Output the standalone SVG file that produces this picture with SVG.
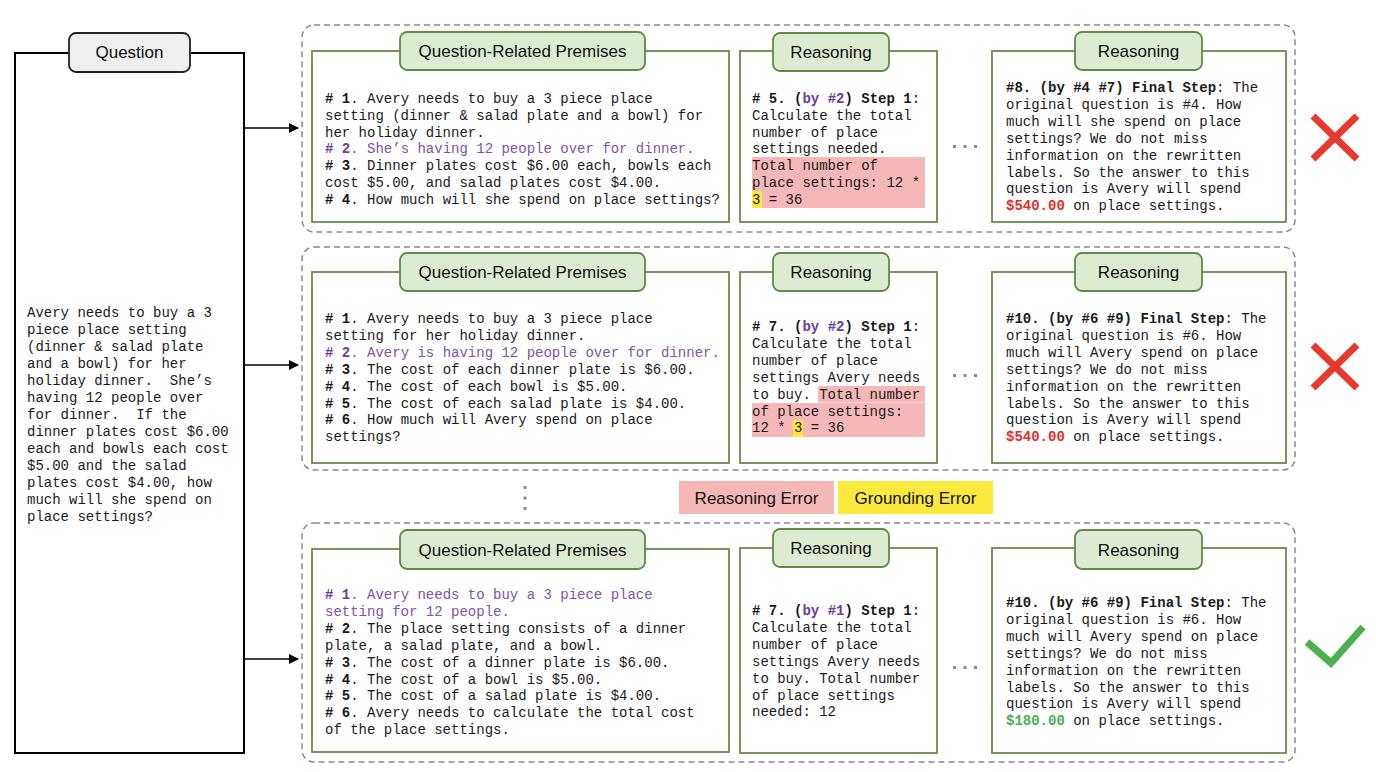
<svg xmlns="http://www.w3.org/2000/svg" width="1376" height="772" viewBox="0 0 1376 772">
<style>
.m{font-family:"Liberation Mono","Courier New",monospace;font-size:14px;fill:#1a1a1a}
.pre{white-space:pre}
.b{font-weight:bold}
.p{fill:#7b55a6}
.pb{fill:#6a3d9e;font-weight:bold}
.red{fill:#e0302a;font-weight:bold}
.grn{fill:#4caf50;font-weight:bold}
.t{font-family:"Liberation Sans",Arial,sans-serif;font-size:17px;fill:#111;text-anchor:middle}
.grp{fill:none;stroke:#8a8a8a;stroke-width:1.5;stroke-dasharray:6 4}
.box{fill:#fff;stroke:#688c4b;stroke-width:1.8}
.pill{fill:#dcebd2;stroke:#5f8a44;stroke-width:1.8}
.pink{fill:#f5b7b7}
.yel{fill:#fbe93d}
.dot{fill:#8a8a8a}
.conn{stroke:#000;stroke-width:1.6;fill:none}
</style>
<defs>
<marker id="arr" markerWidth="10" markerHeight="10" refX="9" refY="5" orient="auto" markerUnits="userSpaceOnUse">
<path d="M0,0 L10,5 L0,10 z" fill="#000"/>
</marker>
</defs>
<rect width="1376" height="772" fill="#fff"/>

<!-- Question node -->
<g id="question">
<rect x="15" y="53" width="229" height="700" fill="#fff" stroke="#000" stroke-width="2"/>
<rect x="69" y="33" width="121" height="39" rx="7" fill="#efefef" stroke="#222" stroke-width="1.8"/>
<text class="t" x="129.5" y="58">Question</text>
<text class="m" x="27" y="317">Avery needs to buy a 3</text>
<text class="m" x="27" y="334">piece place setting</text>
<text class="m" x="27" y="351">(dinner &amp; salad plate</text>
<text class="m" x="27" y="368">and a bowl) for her</text>
<text class="m pre" xml:space="preserve" x="27" y="385">holiday dinner.  She’s</text>
<text class="m" x="27" y="402">having 12 people over</text>
<text class="m pre" xml:space="preserve" x="27" y="419">for dinner.  If the</text>
<text class="m" x="27" y="436">dinner plates cost $6.00</text>
<text class="m" x="27" y="453">each and bowls each cost</text>
<text class="m" x="27" y="470">$5.00 and the salad</text>
<text class="m" x="27" y="487">plates cost $4.00, how</text>
<text class="m" x="27" y="504">much will she spend on</text>
<text class="m" x="27" y="521">place settings?</text>
</g>

<!-- Connectors -->
<g id="connectors">
<line class="conn" x1="244" y1="128" x2="298" y2="128" marker-end="url(#arr)"/>
<line class="conn" x1="244" y1="365" x2="298" y2="365" marker-end="url(#arr)"/>
<line class="conn" x1="244" y1="659" x2="298" y2="659" marker-end="url(#arr)"/>
</g>

<!-- Row 1 -->
<g id="row1">
<rect class="grp" x="302" y="25" width="993" height="207" rx="12"/>
<g id="premises1">
<rect class="box" x="312" y="51" width="417" height="171"/>
<rect class="pill" x="400" y="32" width="245" height="38" rx="7"/>
<text class="t" x="522.5" y="57">Question-Related Premises</text>
<text class="m" x="325" y="103"><tspan class="b"># 1</tspan>. Avery needs to buy a 3 piece place</text>
<text class="m" x="325" y="119.8">setting (dinner &amp; salad plate and a bowl) for</text>
<text class="m" x="325" y="136.6">her holiday dinner.</text>
<text class="m p" x="325" y="153.4"><tspan class="pb"># 2</tspan>. She’s having 12 people over for dinner.</text>
<text class="m" x="325" y="170.2"><tspan class="b"># 3</tspan>. Dinner plates cost $6.00 each, bowls each</text>
<text class="m" x="325" y="187">cost $5.00, and salad plates cost $4.00.</text>
<text class="m" x="325" y="203.8"><tspan class="b"># 4</tspan>. How much will she spend on place settings?</text>
</g>
<g id="reasoning1a">
<rect class="box" x="740" y="51" width="197" height="171"/>
<rect class="pill" x="773" y="33" width="116" height="38" rx="7"/>
<text class="t" x="831" y="58">Reasoning</text>
<rect class="pink" x="752" y="157" width="173" height="51"/>
<rect class="yel" x="752" y="191" width="10" height="17"/>
<text class="m" x="752" y="103"><tspan class="b"># 5. (</tspan><tspan class="pb">by #2</tspan><tspan class="b">) Step 1</tspan>:</text>
<text class="m" x="752" y="119.8">Calculate the total</text>
<text class="m" x="752" y="136.6">number of place</text>
<text class="m" x="752" y="153.4">settings needed.</text>
<text class="m" x="752" y="170.2">Total number of</text>
<text class="m" x="752" y="187">place settings: 12 *</text>
<text class="m" x="752" y="203.8">3 = 36</text>
</g>
<g id="dots1"><rect class="dot" x="953" y="145" width="3" height="3"/><rect class="dot" x="963.5" y="145" width="3" height="3"/><rect class="dot" x="974" y="145" width="3" height="3"/></g>
<g id="reasoning1b">
<rect class="box" x="992" y="51" width="294" height="171"/>
<rect class="pill" x="1075" y="32" width="127" height="38" rx="7"/>
<text class="t" x="1138.5" y="57">Reasoning</text>
<text class="m" x="1006" y="92"><tspan class="b">#8. (by #4 #7) Final Step</tspan>: The</text>
<text class="m" x="1006" y="108.9">original question is #4. How</text>
<text class="m" x="1006" y="125.8">much will she spend on place</text>
<text class="m" x="1006" y="142.7">settings? We do not miss</text>
<text class="m" x="1006" y="159.6">information on the rewritten</text>
<text class="m" x="1006" y="176.5">labels. So the answer to this</text>
<text class="m" x="1006" y="193.4">question is Avery will spend</text>
<text class="m" x="1006" y="210.3"><tspan class="red">$540.00</tspan> on place settings.</text>
</g>
<g id="cross1"><path d="M1313,116 L1357,159 M1357,116 L1313,159" stroke="#e8392d" stroke-width="7" fill="none"/></g>
</g>

<!-- Row 2 -->
<g id="row2">
<rect class="grp" x="302" y="247" width="993" height="223" rx="12"/>
<g id="premises2">
<rect class="box" x="312" y="272" width="417" height="191"/>
<rect class="pill" x="400" y="253" width="245" height="38" rx="7"/>
<text class="t" x="522.5" y="278">Question-Related Premises</text>
<text class="m" x="325" y="323"><tspan class="b"># 1</tspan>. Avery needs to buy a 3 piece place</text>
<text class="m" x="325" y="339.9">setting for her holiday dinner.</text>
<text class="m p" x="325" y="356.8"><tspan class="pb"># 2</tspan>. Avery is having 12 people over for dinner.</text>
<text class="m" x="325" y="373.7"><tspan class="b"># 3</tspan>. The cost of each dinner plate is $6.00.</text>
<text class="m" x="325" y="390.6"><tspan class="b"># 4</tspan>. The cost of each bowl is $5.00.</text>
<text class="m" x="325" y="407.5"><tspan class="b"># 5</tspan>. The cost of each salad plate is $4.00.</text>
<text class="m" x="325" y="424.4"><tspan class="b"># 6</tspan>. How much will Avery spend on place</text>
<text class="m" x="325" y="441.3">settings?</text>
</g>
<g id="reasoning2a">
<rect class="box" x="740" y="272" width="197" height="191"/>
<rect class="pill" x="773" y="253" width="116" height="38" rx="7"/>
<text class="t" x="831" y="278">Reasoning</text>
<rect class="pink" x="818" y="386" width="107" height="16.5"/>
<rect class="pink" x="752" y="403" width="173" height="34"/>
<rect class="yel" x="793" y="420" width="10" height="17"/>
<text class="m" x="752" y="331"><tspan class="b"># 7. (</tspan><tspan class="pb">by #2</tspan><tspan class="b">) Step 1</tspan>:</text>
<text class="m" x="752" y="347.9">Calculate the total</text>
<text class="m" x="752" y="364.8">number of place</text>
<text class="m" x="752" y="381.7">settings Avery needs</text>
<text class="m" x="752" y="398.6">to buy. Total number</text>
<text class="m" x="752" y="415.5">of place settings:</text>
<text class="m" x="752" y="432.4">12 * 3 = 36</text>
</g>
<g id="dots2"><rect class="dot" x="953" y="374" width="3" height="3"/><rect class="dot" x="963.5" y="374" width="3" height="3"/><rect class="dot" x="974" y="374" width="3" height="3"/></g>
<g id="reasoning2b">
<rect class="box" x="992" y="272" width="294" height="191"/>
<rect class="pill" x="1075" y="253" width="127" height="38" rx="7"/>
<text class="t" x="1138.5" y="278">Reasoning</text>
<text class="m" x="1006" y="323"><tspan class="b">#10. (by #6 #9) Final Step</tspan>: The</text>
<text class="m" x="1006" y="339.9">original question is #6. How</text>
<text class="m" x="1006" y="356.8">much will Avery spend on place</text>
<text class="m" x="1006" y="373.7">settings? We do not miss</text>
<text class="m" x="1006" y="390.6">information on the rewritten</text>
<text class="m" x="1006" y="407.5">labels. So the answer to this</text>
<text class="m" x="1006" y="424.4">question is Avery will spend</text>
<text class="m" x="1006" y="441.3"><tspan class="red">$540.00</tspan> on place settings.</text>
</g>
<g id="cross2"><path d="M1313,345 L1357,388 M1357,345 L1313,388" stroke="#e8392d" stroke-width="7" fill="none"/></g>
</g>

<!-- Legend -->
<g id="legend">
<rect class="dot" x="523.5" y="486" width="3" height="3"/>
<rect class="dot" x="523.5" y="496.5" width="3" height="3"/>
<rect class="dot" x="523.5" y="507" width="3" height="3"/>
<rect class="pink" x="679" y="481" width="155" height="33"/>
<text class="t" x="756.5" y="503.5">Reasoning Error</text>
<rect class="yel" x="838" y="481" width="155" height="33"/>
<text class="t" x="915.5" y="503.5">Grounding Error</text>
</g>

<!-- Row 3 -->
<g id="row3">
<rect class="grp" x="302" y="523" width="993" height="239" rx="12"/>
<g id="premises3">
<rect class="box" x="312" y="549" width="417" height="203"/>
<rect class="pill" x="400" y="530" width="245" height="39" rx="7"/>
<text class="t" x="522.5" y="556">Question-Related Premises</text>
<text class="m p" x="325" y="599"><tspan class="pb"># 1</tspan>. Avery needs to buy a 3 piece place</text>
<text class="m p" x="325" y="615.9">setting for 12 people.</text>
<text class="m" x="325" y="632.8"><tspan class="b"># 2</tspan>. The place setting consists of a dinner</text>
<text class="m" x="325" y="649.7">plate, a salad plate, and a bowl.</text>
<text class="m" x="325" y="666.6"><tspan class="b"># 3</tspan>. The cost of a dinner plate is $6.00.</text>
<text class="m" x="325" y="683.5"><tspan class="b"># 4</tspan>. The cost of a bowl is $5.00.</text>
<text class="m" x="325" y="700.4"><tspan class="b"># 5</tspan>. The cost of a salad plate is $4.00.</text>
<text class="m" x="325" y="717.3"><tspan class="b"># 6</tspan>. Avery needs to calculate the total cost</text>
<text class="m" x="325" y="734.2">of the place settings.</text>
</g>
<g id="reasoning3a">
<rect class="box" x="740" y="548" width="197" height="205"/>
<rect class="pill" x="773" y="529" width="116" height="38" rx="7"/>
<text class="t" x="831" y="554">Reasoning</text>
<text class="m" x="752" y="615"><tspan class="b"># 7. (</tspan><tspan class="pb">by #1</tspan><tspan class="b">) Step 1</tspan>:</text>
<text class="m" x="752" y="631.9">Calculate the total</text>
<text class="m" x="752" y="648.8">number of place</text>
<text class="m" x="752" y="665.7">settings Avery needs</text>
<text class="m" x="752" y="682.6">to buy. Total number</text>
<text class="m" x="752" y="699.5">of place settings</text>
<text class="m" x="752" y="716.4">needed: 12</text>
</g>
<g id="dots3"><rect class="dot" x="953" y="666" width="3" height="3"/><rect class="dot" x="963.5" y="666" width="3" height="3"/><rect class="dot" x="974" y="666" width="3" height="3"/></g>
<g id="reasoning3b">
<rect class="box" x="992" y="548" width="294" height="205"/>
<rect class="pill" x="1075" y="530" width="127" height="39" rx="7"/>
<text class="t" x="1138.5" y="556">Reasoning</text>
<text class="m" x="1006" y="607"><tspan class="b">#10. (by #6 #9) Final Step</tspan>: The</text>
<text class="m" x="1006" y="623.9">original question is #6. How</text>
<text class="m" x="1006" y="640.8">much will Avery spend on place</text>
<text class="m" x="1006" y="657.7">settings? We do not miss</text>
<text class="m" x="1006" y="674.6">information on the rewritten</text>
<text class="m" x="1006" y="691.5">labels. So the answer to this</text>
<text class="m" x="1006" y="708.4">question is Avery will spend</text>
<text class="m" x="1006" y="725.3"><tspan class="grn">$180.00</tspan> on place settings.</text>
</g>
<g id="check3"><path d="M1307,642 L1331,663 L1363,627" stroke="#4caf50" stroke-width="7" fill="none"/></g>
</g>
</svg>
